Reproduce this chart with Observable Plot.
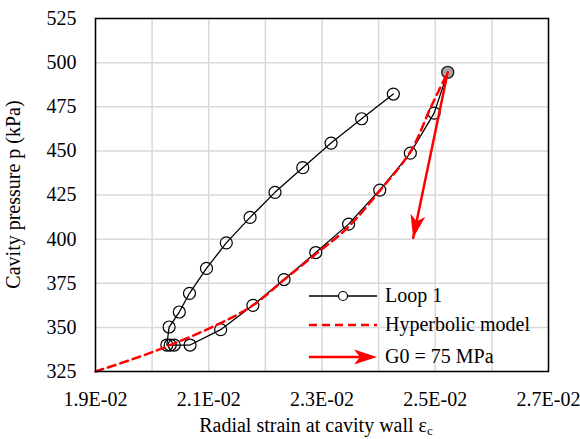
<!DOCTYPE html>
<html>
<head>
<meta charset="utf-8">
<script src="https://cdn.jsdelivr.net/npm/d3@7"></script>
<script src="https://cdn.jsdelivr.net/npm/@observablehq/plot@0.6"></script>
<style>
  html, body { margin: 0; padding: 0; background: white; }
  #chart { width: 580px; height: 439px; }
  #chart svg, #chart svg text, #chart svg tspan {
    font-family: "Liberation Serif", "Times New Roman", Tinos, "DejaVu Serif", serif !important;
  }
</style>
</head>
<body>
<div id="chart"></div>
<script>
// ---- Data ----
const xTicks = [0.019, 0.021, 0.023, 0.025, 0.027];
const xTickLabels = ["1.9E-02", "2.1E-02", "2.3E-02", "2.5E-02", "2.7E-02"];
const xGrid = [0.019, 0.020, 0.021, 0.022, 0.023, 0.024, 0.025, 0.026, 0.027];
const yTicks = [325, 350, 375, 400, 425, 450, 475, 500, 525];

// Loop 1 (starts at the peak, unloads along the lower branch, reloads along the upper branch)
const loopX = [0.02522, 0.02498, 0.02456, 0.02402, 0.02347, 0.02289, 0.02233, 0.02178, 0.02121, 0.02067,
               0.02039, 0.02032, 0.02026, 0.02030, 0.02048, 0.02066, 0.02096, 0.02131, 0.02173, 0.02217,
               0.02266, 0.02316, 0.02370, 0.02426];
const loopY = [494.5, 471.4, 448.7, 427.8, 408.5, 392.4, 377.1, 362.5, 348.7, 340.0,
               340.0, 340.0, 340.0, 350.2, 358.7, 369.3, 383.4, 397.9, 412.3, 426.5,
               440.5, 454.4, 468.2, 482.2];

// Hyperbolic model
const hypX = [0.0190, 0.01962, 0.02015, 0.02115, 0.02178, 0.02233, 0.02289, 0.02345, 0.02404, 0.02457, 0.02492, 0.02522];
const hypY = [325.0, 331.6, 337.8, 351.5, 362.5, 377.0, 391.5, 406.4, 428.2, 450.0, 474.6, 494.5];

// G0 = 75 MPa arrow (start, tip)
const arrowX = [0.02522, 0.02461];
const arrowY = [494.5, 400.7];

const seriesNames = ["Loop 1", "Hyperbolic model", "G0 = 75 MPa"];

// ---- Build tables ----
const loop = loopX.map((x, i) => ({x, y: loopY[i]}));
const hyp = hypX.map((x, i) => ({x, y: hypY[i]}));
const arrow = arrowX.map((x, i) => ({x, y: arrowY[i]}));

const W = 580, H = 439;
const mL = 95, mR = 32, mT = 18, mB = 68;
const xDomain = [0.019, 0.027], yDomain = [325, 525];
const RED = "#ff0000";
const FONT = "'Liberation Serif', 'Times New Roman', Tinos, 'DejaVu Serif', serif";

// angle for arrowhead (screen space)
const xs = d3.scaleLinear(xDomain, [mL, W - mR]);
const ys = d3.scaleLinear(yDomain, [H - mB, mT]);
const adx = xs(arrowX[1]) - xs(arrowX[0]);
const ady = ys(arrowY[1]) - ys(arrowY[0]);
const headAngle = Math.atan2(adx, -ady) * 180 / Math.PI;

const headSymbol = {
  draw(ctx) {
    ctx.moveTo(0, 0);
    ctx.lineTo(7.5, 23);
    ctx.lineTo(0, 17);
    ctx.lineTo(-7.5, 23);
    ctx.closePath();
  }
};

const fmtX = d => {
  const i = xTicks.findIndex(t => Math.abs(t - d) < 1e-9);
  return i >= 0 ? xTickLabels[i] : "";
};

const svg = Plot.plot({
  width: W, height: H,
  marginLeft: mL, marginRight: mR, marginTop: mT, marginBottom: mB,
  x: {domain: xDomain},
  y: {domain: yDomain},
  style: {fontFamily: FONT, fontSize: "20px", background: "white", color: "black"},
  marks: [
    Plot.gridX(xGrid, {stroke: "#d9d9d9", strokeOpacity: 1, strokeWidth: 1.5}),
    Plot.gridY(yTicks, {stroke: "#d9d9d9", strokeOpacity: 1, strokeWidth: 1.5}),
    Plot.axisX(xTicks, {tickFormat: fmtX, tickSize: 0, tickPadding: 20, label: null, fontSize: 20}),
    Plot.axisY(yTicks, {tickSize: 0, tickPadding: 19, label: null, fontSize: 20}),
    Plot.line(loop, {x: "x", y: "y", stroke: "black", strokeWidth: 1.3}),
    Plot.dot(loop.slice(1), {x: "x", y: "y", r: 6, stroke: "black", fill: "none", strokeWidth: 1.2}),
    Plot.dot(loop.slice(0, 1), {x: "x", y: "y", r: 6, stroke: "#222", fill: "#a6a6a6", strokeWidth: 1.4}),
    Plot.line(hyp, {x: "x", y: "y", stroke: RED, strokeWidth: 2.5, strokeDasharray: "8,5", curve: "catmull-rom"}),
    Plot.line(arrow, {x: "x", y: "y", stroke: RED, strokeWidth: 2.5}),
    Plot.dot(arrow.slice(1), {x: "x", y: "y", symbol: headSymbol, rotate: headAngle, fill: RED, stroke: "none", r: 6}),
    Plot.frame({stroke: "black", strokeWidth: 1.5})
  ]
});

document.getElementById("chart").appendChild(svg);

// ---- Titles and legend ----
const s = d3.select(svg);

s.append("text")
  .attr("transform", `translate(20,${(mT + H - mB) / 2}) rotate(-90)`)
  .attr("text-anchor", "middle")
  .attr("font-size", 20).attr("fill", "black")
  .text("Cavity pressure p (kPa)");

const xt = s.append("text")
  .attr("x", 316).attr("y", 432)
  .attr("text-anchor", "middle")
  .attr("font-size", 20).attr("fill", "black");
xt.append("tspan").text("Radial strain at cavity wall ε");
xt.append("tspan").attr("font-size", 13).attr("dy", 3).text("c");

const lg = s.append("g").attr("font-size", 20).attr("text-anchor", "start");
const lx0 = 309, lx1 = 377, tx = 385;
const rows = [296, 325, 357];
// Loop 1
lg.append("line").attr("x1", lx0).attr("x2", lx1).attr("y1", rows[0]).attr("y2", rows[0])
  .attr("stroke", "black").attr("stroke-width", 1.3);
lg.append("circle").attr("cx", (lx0 + lx1) / 2).attr("cy", rows[0]).attr("r", 4.5)
  .attr("fill", "white").attr("stroke", "black").attr("stroke-width", 1.2);
// Hyperbolic
lg.append("line").attr("x1", lx0).attr("x2", lx1).attr("y1", rows[1]).attr("y2", rows[1])
  .attr("stroke", RED).attr("stroke-width", 2.5).attr("stroke-dasharray", "8,5");
// Arrow
lg.append("line").attr("x1", lx0).attr("x2", lx1 - 12).attr("y1", rows[2]).attr("y2", rows[2])
  .attr("stroke", RED).attr("stroke-width", 2.5);
lg.append("path")
  .attr("d", `M${lx1},${rows[2]} L${lx1 - 23},${rows[2] - 7.5} L${lx1 - 17},${rows[2]} L${lx1 - 23},${rows[2] + 7.5} Z`)
  .attr("fill", RED);
rows.forEach((ry, i) => {
  lg.append("text").attr("x", tx).attr("y", ry).attr("dy", "0.32em").attr("fill", "black").text(seriesNames[i]);
});
</script>
</body>
</html>
